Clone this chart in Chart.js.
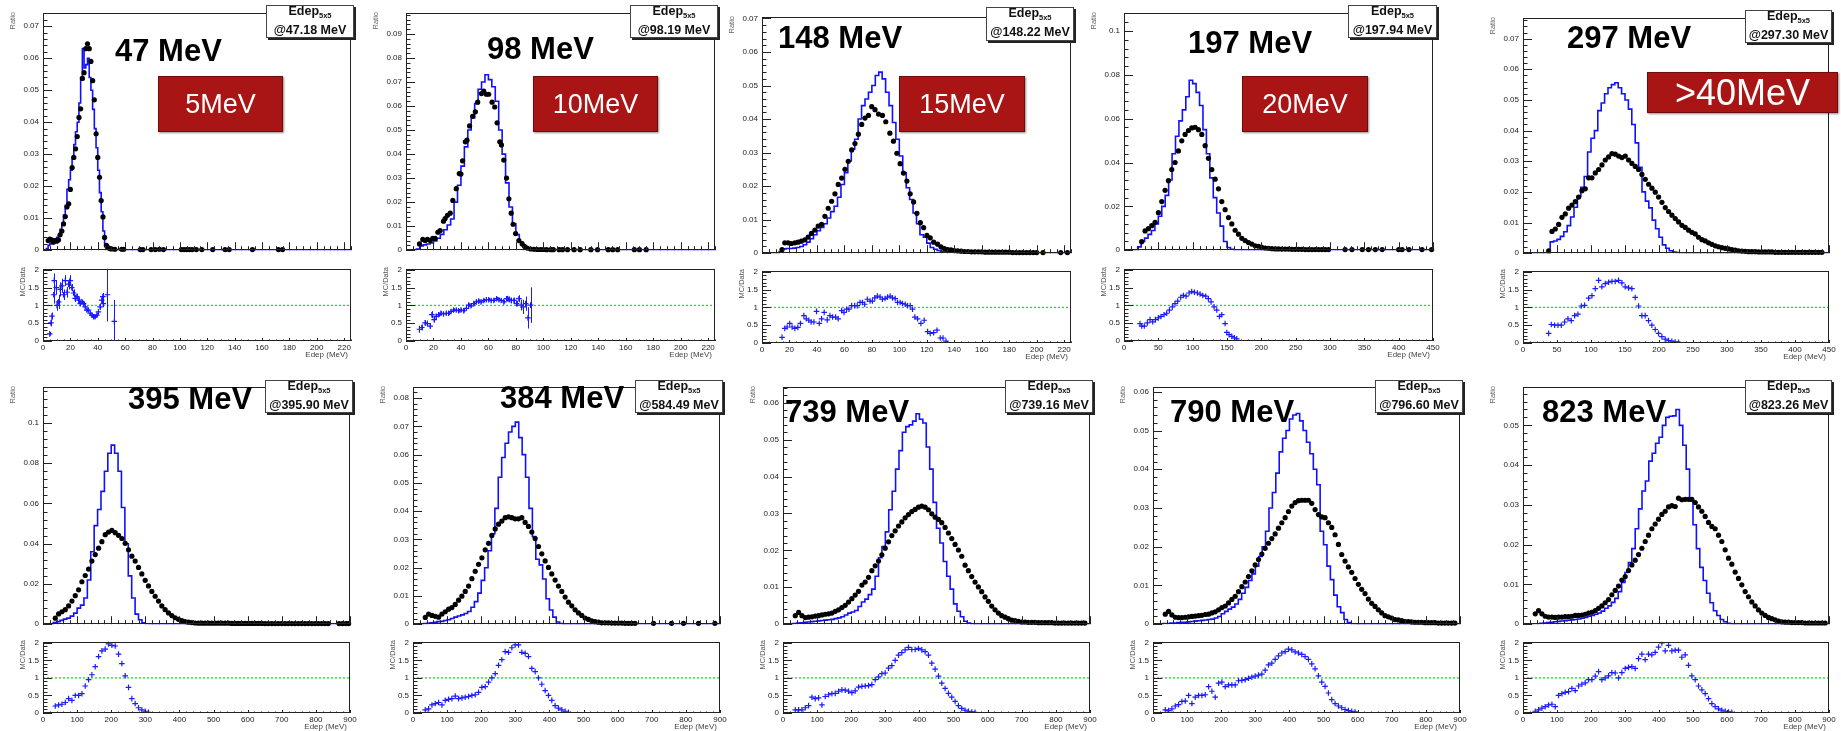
<!DOCTYPE html>
<html><head><meta charset="utf-8">
<script src="https://cdn.jsdelivr.net/npm/chart.js@4.4.1/dist/chart.umd.min.js"></script>
<style>
html,body{margin:0;padding:0;background:#fff;}
body{width:1841px;height:731px;overflow:hidden;position:relative;font-family:"Liberation Sans",Arial,sans-serif;}
canvas{position:absolute;}
.t{position:absolute;white-space:nowrap;line-height:1;}
.tag{position:absolute;background:#a91515;border:1px solid #6e0c0c;box-shadow:1px 1px 2px rgba(0,0,0,.45);color:#fff;display:flex;align-items:center;justify-content:center;box-sizing:border-box;}
.stat{position:absolute;background:#fff;border:1px solid #444;box-shadow:2px 2px 0 #222;box-sizing:border-box;font-weight:bold;color:#111;}
.stat div{position:absolute;left:0;right:0;text-align:center;line-height:1;font-size:12.5px;}
.stat sub{font-size:7.5px;vertical-align:-3px;}
.vt{position:absolute;writing-mode:vertical-rl;transform:rotate(180deg);white-space:nowrap;line-height:1;color:#666;font-size:7.5px;}
</style></head><body>
<script>
// ---------------- Panel 1 (47 MeV) ----------------
const p1DataX = [3.8,5,6.3,7.5,8.8,10,11.3,12.5,13.8,15,16.3,17.5,18.8,20,21.3,22.5,23.8,25,26.3,27.5,28.8,30,31.3,32.5,33.8,35,36.3,37.5,38.8,40,41.3,42.5,43.8,45,46.3,47.5,48.8,50,52.5,57.5,59,71,73,79,82,85,88,101,103,105,107,109,112,116,124,133,136,153,172,175];
const p1DataY = [.003,.0035,.0032,.0025,.003,.0028,.0032,.0048,.006,.0082,.0105,.0135,.0145,.019,.0258,.029,.0317,.0355,.0415,.0442,.0537,.0555,.063,.0645,.063,.059,.053,.047,.0364,.029,.0228,.0155,.0104,.004,.0015,.0008,.0005,.0004,.0003,.0003,.0003,.0002,.0002,.0002,.0002,.0003,.0002,.0002,.0002,.0002,.0002,.0002,.0002,.0002,.0002,.0002,.0002,.0002,.0002,.0002];
const p1McStart = 2.5, p1McWidth = 1.25;
const p1McY = [.0005,.0015,.002,.0025,.003,.0035,.004,.0045,.0065,.008,.011,.014,.019,.022,.025,.029,.033,.037,.040,.046,.054,.063,.057,.058,.060,.054,.050,.044,.038,.032,.025,.018,.012,.006,.002,.0006,.0002];
const p1RatioX = [4.9,5.8,6.5,7.8,8.2,9.7,10.2,11.4,12.6,13.8,15,16.3,17.5,18.7,19.9,21,22.3,23.5,24.7,26,27.2,28.4,29.6,30.8,32,33.2,34.4,35.7,36.9,38,39.3,40.5,41.7,42.9,43.7,44,47,52.1];
const p1RatioY = [.2,.51,.7,1.3,1.7,1.5,1.0,1.1,1.45,1.55,1.3,1.7,1.37,1.6,1.7,1.5,1.35,1.2,1.25,1.15,1.05,1.1,1.05,.96,.87,.87,.78,.73,.68,.68,.73,.82,.96,1.15,1.25,1.05,1.3,.55];
const p1RatioErr = [.05,.1,.1,.25,.2,.2,.15,.2,.2,.2,.15,.15,.15,.15,.15,.1,.1,.1,.08,.08,.06,.06,.05,.05,.05,.05,.05,.05,.05,.05,.05,.06,.08,.1,.1,.1,.75,.6];

// ---------------- Panel 2 (98 MeV) ----------------
const p2DataX = [9.8,12.2,13.9,15.6,17.6,19.5,21.2,23.2,24.9,27.3,28.5,30.2,32.2,34.1,36.6,38.8,40,41.2,43.2,44.4,46.3,48.5,50.5,52.2,54.9,56.6,58.5,60.2,62.7,64.6,66.3,68.3,69.5,71.2,73.2,74.9,76.6,78,79.8,82.2,84.6,86.3,88.3,90.7,93.2,95.6,98,100,102.4,105.4,107.3,111.5,113.9,117.6,122.4,126.8,134.6,139.5,147.3,150.5,154.1,166.3,170,174.9];
const p2DataY = [.0026,.0045,.004,.0045,.004,.0049,.0049,.0075,.0082,.0121,.0132,.0145,.0154,.0207,.0256,.0319,.0317,.0372,.0451,.0458,.0517,.0557,.0576,.0616,.0652,.0662,.0649,.0649,.0616,.0596,.053,.0451,.0438,.0375,.03,.0214,.0154,.0108,.0069,.004,.0026,.0016,.0009,.0005,.0004,.0003,.0003,.0003,.0002,.0002,.0002,.0002,.0002,.0002,.0002,.0002,.0002,.0002,.0002,.0002,.0002,.0002,.0002,.0002];
const p2McStart = 7.5, p2McWidth = 2.5;
const p2McY = [.0005,.0018,.0022,.0026,.003,.0038,.005,.0066,.0085,.0105,.013,.020,.027,.035,.043,.050,.055,.061,.067,.070,.073,.071,.068,.062,.050,.040,.028,.018,.011,.0065,.0035,.0017,.0008,.0004,.0001];
const p2RatioX = [9.8,11.5,13.9,15.6,17.6,18.8,20.5,21.9,23.7,25.4,27.3,29.3,31,32.7,34.6,36.6,38.3,40,42,44,45.6,47.3,49.3,51.2,52.9,54.6,56.6,58.5,60.2,62,63.9,65.9,67.6,69.3,71.2,73.2,74.9,76.6,78.5,80.5,82.2,83.9,85.4,87.1,88.8,90.7];
const p2RatioY = [.33,.38,.51,.49,.42,.74,.6,.69,.74,.78,.76,.78,.78,.83,.87,.87,.85,.87,.85,.92,1.01,.99,1.05,1.1,1.12,1.1,1.14,1.16,1.16,1.14,1.14,1.19,1.16,1.14,1.1,1.19,1.17,1.14,1.14,1.05,1.19,1.01,.96,1.05,.65,1.01];
const p2RatioErr = [.1,.08,.08,.08,.08,.1,.08,.08,.06,.06,.05,.05,.05,.05,.05,.05,.05,.05,.05,.05,.05,.05,.05,.05,.05,.05,.05,.05,.05,.05,.05,.05,.05,.05,.05,.08,.08,.08,.08,.08,.1,.15,.2,.2,.3,.5];

// ---------------- Panel 3 (148 MeV) ----------------
const p3DataX = [14.6,16.6,19,21.4,23.9,26.3,28.7,31.2,33.6,36,38.5,40.9,43.4,45.8,48.2,50.7,53.1,55.5,58,60.4,62.8,65.3,67.7,70.2,72.6,75,77.5,79.9,82.3,84.8,87.7,90.1,93.1,95.7,98.2,100.6,103,105.5,107.9,110.4,112.8,115.3,117.7,120.1,122.5,125,127.9,130.3,132.8,135.2,137.6,140,142.5,145,147.5,150,152.5,155,157.5,160,162.5,165,167.5,170,172.5,175,177.5,180,182.5,185,187.5,190,192.5,195,197.5,200,204.6,217.5,222.4];
const p3DataY = [.0011,.0031,.0031,.0029,.0031,.0033,.0036,.004,.0048,.0059,.0069,.0081,.0086,.011,.0134,.0155,.0177,.0205,.0224,.025,.0274,.0308,.0327,.0355,.0384,.0403,.0411,.0437,.0428,.0415,.0411,.0392,.0358,.0334,.0298,.0267,.0239,.0215,.0177,.0153,.0119,.0091,.0076,.0053,.0046,.0033,.0027,.0019,.0014,.0011,.001,.0008,.0007,.0006,.0005,.0005,.0004,.0004,.0004,.0004,.0003,.0003,.0003,.0003,.0003,.0003,.0003,.0003,.0002,.0002,.0002,.0002,.0002,.0002,.0002,.0002,.0002,.0002,.0002];
const p3McStart = 12.5, p3McWidth = 2.5;
const p3McY = [.0005,.0013,.0014,.0014,.0015,.0017,.002,.0025,.0033,.0043,.0055,.0067,.0077,.0088,.0105,.0124,.014,.0167,.0205,.024,.0275,.031,.034,.040,.044,.046,.048,.050,.053,.054,.052,.048,.044,.039,.034,.029,.024,.0195,.016,.012,.0088,.0055,.0048,.003,.0017,.0012,.0008,.0005,.0004,.0002,.0002,.0001];
const p3RatioX = [14.6,16.6,18.3,20.2,21.9,23.9,26.1,28,30.5,32.2,34.1,35.8,37.8,39.7,41.7,43.4,45.3,47.5,49.5,51.4,53.6,55.5,58,59.7,61.6,63.3,65.3,67.5,69.4,71.4,73.1,74.8,76.7,78.7,80.4,82.1,84,86,87.7,89.6,91.4,93.3,95,97,98.7,100.6,102.3,104.3,106,107.9,109.6,111.3,113.3,115.7,118.1,120.6,122.5,125,127.4,129.8,131.8,134];
const p3RatioY = [.16,.41,.45,.55,.45,.41,.44,.55,.77,.68,.64,.59,.59,.89,.55,.68,.86,.65,.77,.73,.73,.68,.91,.86,.95,.95,1.05,1.05,1.05,1.14,1.14,1.09,1.23,1.18,1.18,1.27,1.32,1.29,1.23,1.25,1.29,1.32,1.27,1.25,1.14,1.14,1.11,1.09,1.05,1.05,.95,.73,.68,.55,.64,.32,.27,.29,.36,.14,.14,.05];

// ---------------- Panel 4 (197 MeV) ----------------
const p4DataStart = 25.8, p4DataStep = 4.86;
const p4DataY = [.0039,.0088,.0098,.0112,.0127,.0171,.0222,.0273,.0317,.0368,.04,.0453,.0499,.0528,.0546,.0558,.0561,.055,.0528,.0477,.0419,.0368,.0324,.028,.0222,.0185,.0149,.012,.0091,.0073,.0054,.0044,.0035,.0028,.002,.0018,.0013,.001,.0009,.0007,.0006,.0006,.0005,.0005,.0005,.0004,.0004,.0004,.0004,.0003,.0003,.0003,.0003,.0003,.0003,.0003,.0003];
const p4ExtraX = [322,332,347,356,366,376,400,405,415,434,448];
const p4ExtraY = [.0003,.0003,.0003,.0003,.0003,.0003,.0003,.0003,.0003,.0003,.0003];
const p4McStart = 20, p4McWidth = 5;
const p4McY = [.0015,.004,.0055,.0072,.009,.012,.0155,.020,.025,.032,.044,.052,.059,.064,.070,.0775,.076,.072,.066,.055,.044,.033,.024,.017,.011,.004,.0012,.0004,.0001];
const p4RatioX = [23.3,25.8,29.6,34,37.9,41.8,45.7,50,53.9,58.3,62.2,66.1,70.5,74.3,78.2,82.6,86.5,90.4,94.8,98.6,102.5,106.9,110.8,114.7,119,122.9,126.8,131.2,135.1,139,142.4,147.2,149.7,153,157,160.8,164.2];
const p4RatioY = [.49,.42,.42,.51,.6,.54,.6,.65,.69,.74,.78,.87,.96,1.05,1.12,1.23,1.28,1.26,1.35,1.39,1.37,1.35,1.32,1.28,1.26,1.19,1.1,.96,.87,.69,.74,.49,.24,.18,.13,.09,.06];

// ---------------- Panel 5 (297 MeV) ----------------
const p5DataStart = 37.7, p5DataStep = 4.9;
const p5DataY = [.0008,.0071,.0079,.0094,.0117,.0128,.0147,.0157,.0168,.0183,.0204,.021,.0246,.0246,.0262,.0273,.0288,.0304,.0314,.0325,.0323,.0317,.0312,.0317,.0304,.0293,.0283,.0273,.0257,.0241,.0225,.0212,.0199,.0183,.0166,.0149,.0136,.0124,.0113,.0102,.0091,.0084,.0075,.0068,.0063,.0052,.0044,.004,.0034,.0029,.0024,.0021,.0018,.0016,.0014,.0012,.001,.0008,.0007,.0006,.0005,.0005,.0005,.0004,.0004,.0004,.0004,.0004,.0003,.0003,.0003,.0003,.0003,.0003,.0003,.0003,.0003,.0003,.0003,.0003,.0003,.0003,.0003];
const p5McStart = 40, p5McWidth = 5;
const p5McY = [.0037,.004,.0045,.0055,.007,.009,.0118,.015,.0185,.0215,.025,.033,.0375,.040,.0465,.049,.052,.054,.055,.0556,.054,.052,.050,.047,.042,.036,.028,.020,.017,.0148,.0108,.008,.0052,.0027,.0016,.0008,.0004,.0002,.0001];
const p5RatioX = [37.7,41.6,46.5,51.4,56.3,61.2,66.1,71,75.9,80.8,85.7,90.6,96.5,101.4,106.3,111.2,116,121,125.9,130.8,135.6,140.5,145.4,150.3,155.2,160.1,165,169.9,174.8,179.7,184.6,189.5,194.4,199.3,204.2,209.1,214,218.9,223.8,228.7];
const p5RatioY = [.27,.52,.5,.5,.5,.59,.68,.63,.77,.81,1.04,1.06,1.26,1.33,1.53,1.76,1.58,1.67,1.71,1.73,1.73,1.76,1.69,1.58,1.55,1.53,1.28,1.04,.77,.77,.63,.5,.38,.27,.18,.11,.07,.05,.03,.02];

// ---------------- Panel 6 (395 MeV) ----------------
const p6DataStart = 36, p6DataStep = 9.76;
const p6DataY = [.003,.0051,.0062,.0072,.0091,.0115,.0142,.0171,.0211,.0242,.0274,.0314,.0346,.0378,.041,.0445,.0458,.0466,.0455,.0442,.0426,.0402,.037,.0338,.0314,.0282,.025,.0218,.019,.0163,.0139,.0115,.0091,.0072,.0056,.0043,.0032,.0024,.0018,.0013,.001,.0008,.0006,.0005,.0005,.0005,.0005,.0005,.0005,.0005,.0005,.0005,.0005,.0004,.0004,.0004,.0004,.0004,.0004,.0004,.0004,.0004,.0004,.0003,.0003,.0003,.0003,.0003,.0003,.0003,.0003,.0003,.0003,.0003,.0003,.0003,.0003,.0003,.0003,.0003,.0003,.0003,.0003];
const p6ExtraX = [868,878,888,896];
const p6ExtraY = [.0003,.0003,.0003,.0003];
const p6McStart = 30, p6McWidth = 10;
const p6McY = [.0008,.0013,.0019,.0025,.003,.004,.0055,.008,.0095,.013,.022,.036,.049,.057,.066,.076,.085,.089,.085,.076,.058,.040,.024,.013,.005,.0022,.0007,.0002];
const p6RatioStart = 36, p6RatioStep = 9.76;
const p6RatioY = [.2,.23,.25,.3,.41,.36,.5,.5,.55,.77,.95,1.09,1.32,1.61,1.77,1.82,1.97,1.93,1.91,1.68,1.41,1.06,.73,.41,.27,.15,.09,.05,.02];

// ---------------- Panel 7 (384 MeV) ----------------
const p7DataStart = 36, p7DataStep = 9.76;
const p7DataY = [.0024,.0036,.0031,.0028,.0025,.0036,.0044,.0053,.0059,.007,.0085,.0099,.0116,.0135,.0161,.0187,.0212,.0235,.0263,.0286,.0314,.0337,.0354,.0365,.0377,.038,.0377,.0373,.0373,.0377,.036,.0346,.0326,.0303,.0275,.0249,.0224,.0201,.0178,.0156,.0135,.0116,.0096,.0078,.0065,.0051,.004,.0031,.0022,.0017,.0012,.0009,.0007,.0005,.0005,.0005,.0004,.0004,.0004,.0004,.0003,.0003,.0003,.0003];
const p7ExtraX = [705,758,793,837,885];
const p7ExtraY = [.0003,.0003,.0003,.0003,.0003];
const p7McStart = 30, p7McWidth = 10;
const p7McY = [.0002,.0003,.0005,.0007,.0009,.001,.0013,.0016,.002,.0025,.0029,.0033,.0038,.0045,.006,.008,.011,.0155,.020,.026,.032,.041,.052,.059,.064,.068,.070,.0715,.066,.060,.052,.041,.031,.023,.021,.016,.009,.005,.0025,.0008,.0002];
const p7RatioStart = 36, p7RatioStep = 9.76;
const p7RatioY = [.09,.12,.23,.27,.3,.23,.36,.39,.41,.48,.41,.43,.45,.47,.5,.52,.59,.73,.75,.88,1.0,1.12,1.36,1.52,1.75,1.73,1.86,1.94,1.94,1.73,1.7,1.61,1.27,1.18,1.0,.82,.64,.5,.36,.21,.14,.09,.05,.02];

// ---------------- Panel 8 (739 MeV) ----------------
const p8DataStart = 36, p8DataStep = 9.76;
const p8DataY = [.0023,.0032,.0023,.0018,.0019,.002,.0022,.0023,.0025,.0027,.0028,.003,.0035,.0039,.0045,.0051,.006,.0069,.0079,.0089,.0106,.0114,.0127,.0145,.0158,.0171,.0188,.0206,.0223,.024,.0253,.0266,.0277,.0288,.0297,.0305,.0311,.0317,.032,.0317,.031,.0299,.029,.0284,.0275,.0262,.0247,.0232,.0216,.0201,.0184,.016,.0145,.0129,.0114,.0101,.0088,.0074,.0062,.0049,.0039,.003,.0023,.0019,.0015,.0011,.001,.0008,.0006,.0006,.0005,.0005,.0005,.0004,.0004,.0004,.0004,.0004,.0003,.0003,.0003,.0003,.0003,.0003,.0003,.0003,.0003,.0003];
const p8McStart = 30, p8McWidth = 10;
const p8McY = [.0002,.0003,.0004,.0005,.0006,.0007,.0008,.0009,.001,.0011,.0012,.0013,.0015,.0017,.002,.0025,.003,.0033,.0037,.0048,.006,.0068,.008,.0095,.013,.018,.021,.025,.031,.036,.042,.047,.052,.0535,.054,.055,.057,.0555,.0545,.048,.042,.033,.026,.022,.017,.013,.0095,.0055,.0035,.002,.0008,.0003,.0001];
const p8RatioStart = 36, p8RatioStep = 9.76;
const p8RatioY = [.09,.09,.09,.15,.21,.45,.41,.43,.23,.47,.52,.55,.56,.62,.66,.65,.62,.58,.63,.74,.76,.77,.78,.81,.95,1.03,1.12,1.14,1.28,1.35,1.5,1.65,1.72,1.8,1.87,1.81,1.81,1.84,1.8,1.75,1.65,1.42,1.25,1.05,.85,.7,.56,.45,.33,.21,.13,.08,.05,.03,.02];

// ---------------- Panel 9 (790 MeV) ----------------
const p9DataStart = 36, p9DataStep = 9.76;
const p9DataY = [.0026,.0033,.0024,.0018,.0017,.0017,.0018,.0019,.002,.0021,.0022,.0023,.0025,.0026,.0029,.0032,.0037,.0043,.0047,.0055,.0064,.0072,.0084,.0097,.0109,.0123,.0138,.0153,.0167,.0181,.0196,.0209,.0221,.0233,.0248,.0262,.0275,.0291,.0305,.0314,.0319,.032,.032,.032,.0312,.0296,.0283,.0277,.0275,.0262,.025,.0231,.0206,.018,.0163,.0148,.0134,.0118,.0103,.009,.0079,.0065,.0054,.0046,.0037,.0029,.0022,.0019,.0016,.0012,.0011,.0009,.0007,.0007,.0006,.0005,.0005,.0005,.0004,.0004,.0004,.0004,.0003,.0003,.0003,.0003,.0003,.0003];
const p9McStart = 30, p9McWidth = 10;
const p9McY = [.0002,.0002,.0003,.0003,.0004,.0005,.0005,.0006,.0007,.0008,.0009,.001,.0011,.0012,.0013,.0016,.002,.0027,.0033,.0039,.0044,.0052,.0064,.008,.0095,.0113,.013,.015,.0175,.020,.024,.030,.034,.039,.0445,.048,.050,.053,.054,.0544,.0525,.050,.047,.044,.040,.036,.024,.0205,.015,.0115,.0075,.0045,.003,.0012,.0004,.0001];
const p9RatioStart = 36, p9RatioStep = 9.76;
const p9RatioY = [.09,.07,.12,.2,.24,.33,.34,.5,.27,.45,.5,.5,.52,.75,.62,.45,.85,.88,.75,.8,.8,.8,.92,.93,.95,.99,1.02,1.05,1.08,1.11,1.22,1.37,1.42,1.53,1.63,1.71,1.75,1.82,1.8,1.74,1.71,1.67,1.61,1.53,1.4,1.26,1.06,.88,.76,.57,.38,.27,.2,.15,.1,.07,.05,.03];

// ---------------- Panel 10 (823 MeV) ----------------
const p10DataStart = 36, p10DataStep = 9.8;
const p10DataY = [.0026,.0034,.0026,.002,.0018,.0018,.0017,.0018,.0018,.0019,.0019,.002,.0022,.0022,.0023,.0025,.0028,.003,.0034,.004,.0046,.0054,.0062,.0074,.0085,.0096,.0111,.012,.0135,.0149,.0161,.0175,.0191,.0208,.0224,.024,.0252,.0264,.0276,.0284,.0295,.0298,.0296,.0317,.0313,.0314,.0314,.0314,.0306,.0295,.0284,.0271,.0256,.0246,.024,.0224,.0208,.0187,.0166,.0151,.0131,.0115,.0099,.0082,.0069,.0056,.0046,.0036,.0028,.0022,.0017,.0014,.0011,.0008,.0006,.0005,.0005,.0004,.0004,.0004,.0004,.0003,.0003,.0003,.0003,.0003,.0003,.0003];
const p10McStart = 30, p10McWidth = 10;
const p10McY = [.0001,.0001,.0002,.0003,.0004,.0005,.0006,.0007,.0008,.0009,.001,.0011,.0012,.0013,.0015,.0017,.002,.0022,.0025,.0028,.0033,.004,.0046,.0055,.0065,.0082,.0105,.013,.0155,.019,.024,.029,.0335,.036,.041,.043,.0455,.047,.050,.052,.0523,.0524,.054,.050,.045,.039,.031,.025,.019,.0143,.011,.0078,.0054,.0034,.0022,.0012,.0006,.0002];
const p10RatioStart = 36, p10RatioStep = 9.8;
const p10RatioY = [.05,.09,.14,.18,.23,.25,.18,.5,.55,.59,.61,.7,.64,.77,.82,.86,.95,.95,1.05,1.18,.95,1.0,1.06,1.15,1.14,1.0,1.15,1.27,1.3,1.32,1.27,1.55,1.68,1.52,1.68,1.66,1.73,1.88,2.0,1.77,1.93,1.77,1.79,1.79,1.59,1.66,1.36,1.06,.95,.77,.66,.55,.41,.27,.18,.12,.08,.05,.03,.02];

// ---------------- labels ----------------
const beamLabels = ['47 MeV','98 MeV','148 MeV','197 MeV','297 MeV','395 MeV','384 MeV','739 MeV','790 MeV','823 MeV'];
const statLabels = ['@47.18 MeV','@98.19 MeV','@148.22 MeV','@197.94 MeV','@297.30 MeV','@395.90 MeV','@584.49 MeV','@739.16 MeV','@796.60 MeV','@823.26 MeV'];
const tagLabels = ['5MeV','10MeV','15MeV','20MeV','>40MeV'];

// ---------------- helpers ----------------
const FONT = '"Liberation Sans", Arial, sans-serif';
function pts(xs, ys){ const n=Math.min(xs.length, ys.length); const o=[]; for(let i=0;i<n;i++) if(ys[i]!=null) o.push({x:xs[i], y:ys[i]}); return o; }
function reg(start, step, ys){ return ys.map((y,i)=>({x:start+i*step, y})); }
function hist(start, width, ys, xMax){ const o=[{x:0,y:0}]; ys.forEach((y,i)=>o.push({x:start+i*width,y})); o.push({x:start+ys.length*width,y:0}); o.push({x:xMax,y:0}); return o; }
const fmt = v => String(+(+v).toFixed(4));

const panels = [
 {L:43,R:351,T:10,B:257,rT:266,rB:341,xMax:225,xMaj:20,xMin:5,yMax:0.0742,yMaj:0.01,yMin:0.002,
  data:pts(p1DataX,p1DataY), mc:hist(p1McStart,p1McWidth,p1McY,225), ratio:pts(p1RatioX,p1RatioY), err:p1RatioErr,
  beam:[115,61], tag:[158,76,125,56,27], stat:[266,5,88,33]},
 {L:406,R:715,T:10,B:257,rT:266,rB:341,xMax:225,xMaj:20,xMin:5,yMax:0.0988,yMaj:0.01,yMin:0.002,
  data:pts(p2DataX,p2DataY), mc:hist(p2McStart,p2McWidth,p2McY,225), ratio:pts(p2RatioX,p2RatioY), err:p2RatioErr,
  beam:[487,59], tag:[533,76,125,56,27], stat:[630,5,88,33]},
 {L:762,R:1071,T:14,B:260,rT:268,rB:343,xMax:225,xMaj:20,xMin:5,yMax:0.0705,yMaj:0.01,yMin:0.002,
  data:pts(p3DataX,p3DataY), mc:hist(p3McStart,p3McWidth,p3McY,225), ratio:pts(p3RatioX,p3RatioY),
  beam:[778,48], tag:[899,76,126,56,27], stat:[986,7,88,34]},
 {L:1124,R:1433,T:10,B:257,rT:266,rB:341,xMax:450,xMaj:50,xMin:10,yMax:0.1083,yMaj:0.02,yMin:0.004,
  data:reg(p4DataStart,p4DataStep,p4DataY).concat(pts(p4ExtraX,p4ExtraY)), mc:hist(p4McStart,p4McWidth,p4McY,450), ratio:pts(p4RatioX,p4RatioY),
  beam:[1188,53], tag:[1242,76,126,56,27], stat:[1348,5,89,33]},
 {L:1523,R:1829,T:15,B:260,rT:268,rB:343,xMax:450,xMaj:50,xMin:10,yMax:0.0768,yMaj:0.01,yMin:0.002,
  data:reg(p5DataStart,p5DataStep,p5DataY), mc:hist(p5McStart,p5McWidth,p5McY,450), ratio:pts(p5RatioX,p5RatioY),
  beam:[1567,48], tag:[1647,72,191,41,36], stat:[1745,10,87,33]},
 {L:43,R:350,T:384,B:631,rT:639,rB:713,xMax:900,xMaj:100,xMin:20,yMax:0.118,yMaj:0.02,yMin:0.004,
  data:reg(p6DataStart,p6DataStep,p6DataY).concat(pts(p6ExtraX,p6ExtraY)), mc:hist(p6McStart,p6McWidth,p6McY,900), ratio:reg(p6RatioStart,p6RatioStep,p6RatioY),
  beam:[128,409], stat:[265,380,88,33]},
 {L:413,R:720,T:384,B:631,rT:639,rB:713,xMax:900,xMaj:100,xMin:20,yMax:0.084,yMaj:0.01,yMin:0.002,
  data:reg(p7DataStart,p7DataStep,p7DataY).concat(pts(p7ExtraX,p7ExtraY)), mc:hist(p7McStart,p7McWidth,p7McY,900), ratio:reg(p7RatioStart,p7RatioStep,p7RatioY),
  beam:[500,408], stat:[635,380,88,33]},
 {L:783,R:1090,T:384,B:631,rT:639,rB:713,xMax:900,xMaj:100,xMin:20,yMax:0.0643,yMaj:0.01,yMin:0.002,
  data:reg(p8DataStart,p8DataStep,p8DataY), mc:hist(p8McStart,p8McWidth,p8McY,900), ratio:reg(p8RatioStart,p8RatioStep,p8RatioY),
  beam:[785,422], stat:[1005,380,88,33]},
 {L:1153,R:1460,T:384,B:631,rT:639,rB:713,xMax:900,xMaj:100,xMin:20,yMax:0.0613,yMaj:0.01,yMin:0.002,
  data:reg(p9DataStart,p9DataStep,p9DataY), mc:hist(p9McStart,p9McWidth,p9McY,900), ratio:reg(p9RatioStart,p9RatioStep,p9RatioY),
  beam:[1170,422], stat:[1375,380,88,33]},
 {L:1523,R:1829,T:384,B:631,rT:639,rB:713,xMax:900,xMaj:100,xMin:20,yMax:0.0597,yMaj:0.01,yMin:0.002,
  data:reg(p10DataStart,p10DataStep,p10DataY), mc:hist(p10McStart,p10McWidth,p10McY,900), ratio:reg(p10RatioStart,p10RatioStep,p10RatioY),
  beam:[1542,422], stat:[1745,380,87,33]}
];

// ROOT-like frame with inward ticks
const rootFrame = {
  id:'rootFrame',
  afterDatasetsDraw(chart, args, o){
    const {ctx, chartArea:a} = chart; const x=chart.scales.x, y=chart.scales.y;
    ctx.save(); ctx.strokeStyle='#222'; ctx.lineWidth=1;
    ctx.strokeRect(Math.round(a.left)+0.5, Math.round(a.top)+0.5, Math.round(a.right-a.left)-1, Math.round(a.bottom-a.top)-1);
    ctx.beginPath();
    for(let k=0;;k++){ const v=x.min+k*o.xMinor; if(v>x.max+1e-9) break;
      const maj=Math.abs(v/o.xMajor-Math.round(v/o.xMajor))<1e-6; const len=maj?o.xLen:o.xLen/2;
      const px=Math.round(x.getPixelForValue(v))+0.5; ctx.moveTo(px,a.bottom); ctx.lineTo(px,a.bottom-len); }
    for(let k=0;;k++){ const v=y.min+k*o.yMinor; if(v>y.max+1e-12) break;
      const maj=Math.abs(v/o.yMajor-Math.round(v/o.yMajor))<1e-6; const len=maj?o.yLen:o.yLen/2;
      const py=Math.round(y.getPixelForValue(v))+0.5; ctx.moveTo(a.left,py); ctx.lineTo(a.left+len,py); }
    ctx.stroke(); ctx.restore();
  }
};
const errBars = {
  id:'errBars',
  afterDatasetsDraw(chart){
    const {ctx, chartArea:a} = chart; const y=chart.scales.y;
    chart.data.datasets.forEach((ds,i)=>{
      if(!ds.errY) return; const meta=chart.getDatasetMeta(i);
      ctx.save(); ctx.beginPath(); ctx.rect(a.left,a.top,a.right-a.left,a.bottom-a.top); ctx.clip();
      ctx.strokeStyle=ds.borderColor; ctx.lineWidth=1; ctx.beginPath();
      ds.data.forEach((p,j)=>{ const e=ds.errY[j]; if(!e) return; const px=Math.round(meta.data[j].x)+0.5;
        ctx.moveTo(px,y.getPixelForValue(p.y-e)); ctx.lineTo(px,y.getPixelForValue(p.y+e)); });
      ctx.stroke(); ctx.restore();
    });
  }
};

function canvasAt(left, top, w, h){
  const c=document.createElement('canvas'); c.width=w; c.height=h;
  c.style.left=left+'px'; c.style.top=top+'px'; c.style.width=w+'px'; c.style.height=h+'px';
  document.body.appendChild(c); return c;
}
function addText(txt, left, baseline, size, weight, color){
  const d=document.createElement('div'); d.className='t'; d.textContent=txt;
  d.style.fontSize=size+'px'; d.style.fontWeight=weight; d.style.color=color;
  d.style.left=left+'px'; d.style.top=(baseline-0.8465*size)+'px'; document.body.appendChild(d); return d;
}
function addVText(txt, cx, top, color){
  const d=document.createElement('div'); d.className='vt'; d.textContent=txt; d.style.color=color;
  d.style.left=(cx-3.75)+'px'; d.style.top=top+'px'; document.body.appendChild(d);
}

const PADL=40, PADT=6, PADR=12;
const tickFont = {family:FONT, size:8};

panels.forEach((p,idx)=>{
  // main plot
  const mc = canvasAt(p.L-PADL, p.T-PADT, p.R-p.L+PADL+PADR, p.B-p.T+PADT+2);
  new Chart(mc, {
    type:'scatter',
    data:{datasets:[
      {label:'Data', data:p.data, pointRadius:2.6, pointHoverRadius:2.6, backgroundColor:'#000', borderColor:'#000', pointBorderWidth:0, showLine:false, clip:4},
      {label:'MC', type:'line', data:p.mc, stepped:true, borderColor:'#1010ff', borderWidth:1.6, pointRadius:0, fill:false, tension:0}
    ]},
    options:{responsive:false, animation:false, devicePixelRatio:1, events:[],
      layout:{padding:{top:PADT,right:PADR,left:0,bottom:0}, autoPadding:false},
      plugins:{legend:{display:false}, tooltip:{enabled:false},
        rootFrame:{xMajor:p.xMaj,xMinor:p.xMin,yMajor:p.yMaj,yMinor:p.yMin,xLen:8,yLen:9}},
      scales:{
        x:{type:'linear',min:0,max:p.xMax,grid:{display:false,drawTicks:false},border:{display:false},ticks:{display:false},afterFit(s){s.height=2;}},
        y:{type:'linear',min:0,max:p.yMax,grid:{display:false,drawTicks:false},border:{display:false},
           ticks:{stepSize:p.yMaj,includeBounds:false,padding:4,font:tickFont,color:'#222',callback:v=>fmt(v)},afterFit(s){s.width=PADL;}}
      }},
    plugins:[rootFrame]
  });
  // ratio plot
  const rc = canvasAt(p.L-PADL, p.rT-PADT, p.R-p.L+PADL+PADR, p.rB-p.rT+PADT+16);
  new Chart(rc, {
    type:'scatter',
    data:{datasets:[
      {label:'MC/Data', data:p.ratio, errY:p.err||null, pointStyle:'cross', pointRadius:2.8, borderColor:'#1a1aff', backgroundColor:'#1a1aff', borderWidth:1.2, showLine:false},
      {label:'unity', type:'line', data:[{x:0,y:1},{x:p.xMax,y:1}], borderColor:'#19e019', borderWidth:1.3, borderDash:[2,2], pointRadius:0, fill:false}
    ]},
    options:{responsive:false, animation:false, devicePixelRatio:1, events:[],
      layout:{padding:{top:PADT,right:PADR,left:0,bottom:0}, autoPadding:false},
      plugins:{legend:{display:false}, tooltip:{enabled:false},
        rootFrame:{xMajor:p.xMaj,xMinor:p.xMin,yMajor:0.5,yMinor:0.1,xLen:3,yLen:9}},
      scales:{
        x:{type:'linear',min:0,max:p.xMax,grid:{display:false,drawTicks:false},border:{display:false},
           ticks:{stepSize:p.xMaj,includeBounds:false,padding:2,font:tickFont,color:'#222',maxRotation:0,minRotation:0,autoSkip:false,callback:v=>fmt(v)},afterFit(s){s.height=16;}},
        y:{type:'linear',min:0,max:2.03,grid:{display:false,drawTicks:false},border:{display:false},
           ticks:{stepSize:0.5,includeBounds:false,padding:4,font:tickFont,color:'#222',callback:v=>fmt(v)},afterFit(s){s.width=PADL;}}
      }},
    plugins:[rootFrame, errBars]
  });
  // axis titles
  addVText('Ratio', p.L-30, p.T+2, '#666');
  addVText('MC/Data', p.L-20, p.rT+1, '#555');
  const ed = addText('Edep (MeV)', 0, p.rB+17, 8, 'normal', '#444');
  ed.style.left='auto'; ed.style.right=(1841-(p.R-3))+'px';
});

// overlays: beam energy, resolution tag, stat box
panels.forEach((p,idx)=>{
  addText(beamLabels[idx], p.beam[0], p.beam[1], 31, 'bold', '#000');
  if(p.tag){
    const d=document.createElement('div'); d.className='tag'; d.textContent=tagLabels[idx];
    d.style.left=p.tag[0]+'px'; d.style.top=p.tag[1]+'px'; d.style.width=p.tag[2]+'px'; d.style.height=p.tag[3]+'px'; d.style.fontSize=p.tag[4]+'px';
    document.body.appendChild(d);
  }
  const s=document.createElement('div'); s.className='stat';
  s.style.left=p.stat[0]+'px'; s.style.top=p.stat[1]+'px'; s.style.width=p.stat[2]+'px'; s.style.height=p.stat[3]+'px';
  const l1=document.createElement('div'); l1.style.top='-1px'; l1.innerHTML='Edep<sub>5x5</sub>';
  const l2=document.createElement('div'); l2.style.top='18px'; l2.textContent=statLabels[idx];
  s.appendChild(l1); s.appendChild(l2); document.body.appendChild(s);
});
</script>
</body></html>
